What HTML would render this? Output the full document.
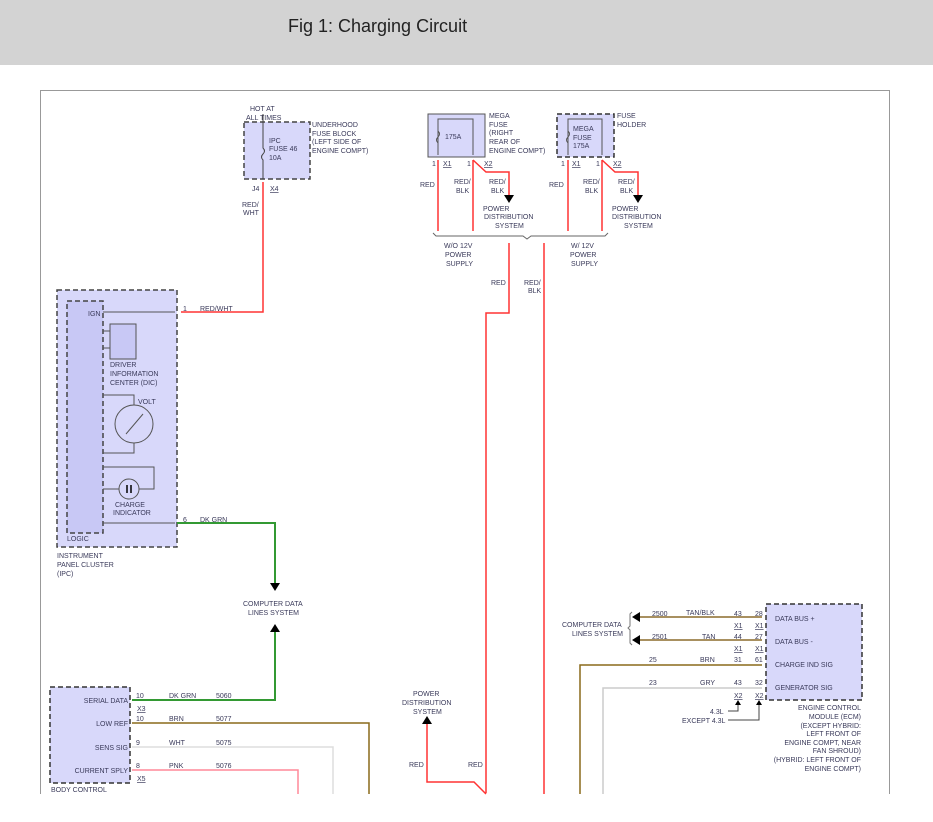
<!DOCTYPE html>
<html><head><meta charset="utf-8"><style>
html,body{margin:0;padding:0;background:#fff;width:933px;height:822px;overflow:hidden}
svg text{font-family:"Liberation Sans",sans-serif;font-size:7px;fill:#3a3a5a}
.t{font-family:"Liberation Sans",sans-serif}
</style></head><body>
<svg width="933" height="822" viewBox="0 0 933 822" xmlns="http://www.w3.org/2000/svg">
<defs>
<marker id="ad" viewBox="0 0 10 10" refX="5" refY="10" markerWidth="8" markerHeight="8" orient="auto-start-reverse"><path d="M0,0 L10,0 L5,10z" fill="#000"/></marker>
</defs>
<rect x="0" y="0" width="933" height="65" fill="#d3d3d3"/>
<text x="288" y="32" style="font-size:18px;fill:#222">Fig 1: Charging Circuit</text>
<path d="M40.5,822 V90.5 H889.5 V822" fill="none" stroke="#999" stroke-width="1"/>
<rect x="0" y="794" width="933" height="28" fill="#fff"/>

<!-- top fuse -->
<text x="250" y="111">HOT AT</text><text x="246" y="120">ALL TIMES</text>
<rect x="244" y="122" width="66" height="57" fill="#d8d8fa" stroke="#444" stroke-width="1.5" stroke-dasharray="5,3"/>
<path d="M263,114 V148 q3,3 0,6 q-3,3 0,6 V179" fill="none" stroke="#444" stroke-width="1"/>
<text x="269" y="143">IPC</text><text x="269" y="151">FUSE 46</text><text x="269" y="160">10A</text>
<text x="312" y="127">UNDERHOOD</text><text x="312" y="136">FUSE BLOCK</text><text x="312" y="144">(LEFT SIDE OF</text><text x="312" y="153">ENGINE COMPT)</text>
<text x="252" y="191">J4</text><text x="270" y="191" text-decoration="underline">X4</text>
<text x="242" y="207">RED/</text><text x="243" y="215">WHT</text>
<path d="M263,182 V312 H181" fill="none" stroke="#f33" stroke-width="1.5"/>

<!-- IPC -->
<rect x="57" y="290" width="120" height="257" fill="#d8d8fa" stroke="#444" stroke-width="1.5" stroke-dasharray="5,3"/>
<rect x="67" y="301" width="36" height="232" fill="#c8c8f5" stroke="#444" stroke-width="1.5" stroke-dasharray="5,3"/>
<text x="88" y="316">IGN</text>
<path d="M103,312 H175" stroke="#555" stroke-width="1"/>
<rect x="110" y="324" width="26" height="35" fill="#c8c8f5" stroke="#555"/>
<path d="M103,331 H110 M103,348 H110" stroke="#555"/>
<text x="110" y="367">DRIVER</text><text x="110" y="376">INFORMATION</text><text x="110" y="385">CENTER (DIC)</text>
<path d="M103,395 H134 V405 M134,443 V453 H103" fill="none" stroke="#555"/>
<circle cx="134" cy="424" r="19" fill="none" stroke="#555"/>
<path d="M126,434 L143,414" stroke="#555"/>
<text x="138" y="404">VOLT</text>
<path d="M103,467 H154 V489 H139 M119,489 H103" fill="none" stroke="#555"/>
<circle cx="129" cy="489" r="10" fill="none" stroke="#555"/>
<path d="M127,485 V493 M131,485 V493" stroke="#000" stroke-width="1.5"/>
<text x="115" y="507">CHARGE</text><text x="113" y="515">INDICATOR</text>
<path d="M103,523 H175" stroke="#555"/>
<text x="67" y="541">LOGIC</text>
<text x="57" y="558">INSTRUMENT</text><text x="57" y="567">PANEL CLUSTER</text><text x="57" y="576">(IPC)</text>
<text x="183" y="311">1</text><text x="200" y="311">RED/WHT</text>
<text x="183" y="522">6</text><text x="200" y="522">DK GRN</text>
<path d="M177,523 H275 V583" fill="none" stroke="#393" stroke-width="2"/>
<path d="M270,583 H280 L275,591z" fill="#000"/>
<text x="243" y="606">COMPUTER DATA</text><text x="248" y="615">LINES SYSTEM</text>
<path d="M270,632 H280 L275,624z" fill="#000"/>
<path d="M275,632 V700 H132" fill="none" stroke="#393" stroke-width="2"/>

<!-- body control -->
<rect x="50" y="687" width="80" height="96" fill="#d8d8fa" stroke="#333" stroke-width="1.5" stroke-dasharray="5,3"/>
<text x="128" y="703" text-anchor="end">SERIAL DATA</text>
<text x="128" y="726" text-anchor="end">LOW REF</text>
<text x="128" y="750" text-anchor="end">SENS SIG</text>
<text x="128" y="773" text-anchor="end">CURRENT SPLY</text>
<text x="51" y="792">BODY CONTROL</text>
<text x="136" y="698">10</text><text x="169" y="698">DK GRN</text><text x="216" y="698">5060</text>
<text x="137" y="711" text-anchor="start" text-decoration="underline">X3</text>
<text x="136" y="721">10</text><text x="169" y="721">BRN</text><text x="216" y="721">5077</text>
<text x="136" y="745">9</text><text x="169" y="745">WHT</text><text x="216" y="745">5075</text>
<text x="136" y="768">8</text><text x="169" y="768">PNK</text><text x="216" y="768">5076</text>
<text x="137" y="781" text-decoration="underline">X5</text>
<path d="M132,723 H369 V794" fill="none" stroke="#8a6a1a" stroke-width="1.5"/>
<path d="M132,747 H333 V794" fill="none" stroke="#ddd" stroke-width="1.5"/>
<path d="M132,770 H298 V794" fill="none" stroke="#f89" stroke-width="1.5"/>

<!-- mega fuse -->
<rect x="428" y="114" width="57" height="43" fill="#d8d8fa" stroke="#555" stroke-width="1"/>
<path d="M438,155 V119 H473 V155" fill="none" stroke="#555"/>
<path d="M438,131 q3,3 0,6 q-3,3 0,6" fill="none" stroke="#555"/>
<text x="445" y="139">175A</text>
<text x="489" y="118">MEGA</text><text x="489" y="127">FUSE</text><text x="489" y="135">(RIGHT</text><text x="489" y="144">REAR OF</text><text x="489" y="153">ENGINE COMPT)</text>
<text x="432" y="166">1</text><text x="443" y="166" text-decoration="underline">X1</text>
<text x="467" y="166">1</text><text x="484" y="166" text-decoration="underline">X2</text>
<rect x="557" y="114" width="57" height="43" fill="#d8d8fa" stroke="#333" stroke-width="1.5" stroke-dasharray="5,3"/>
<path d="M568,155 V119 H602 V155" fill="none" stroke="#555"/>
<path d="M568,131 q3,3 0,6 q-3,3 0,6" fill="none" stroke="#555"/>
<text x="573" y="131">MEGA</text><text x="573" y="140">FUSE</text><text x="573" y="148">175A</text>
<text x="617" y="118">FUSE</text><text x="617" y="127">HOLDER</text>
<text x="561" y="166">1</text><text x="572" y="166" text-decoration="underline">X1</text>
<text x="596" y="166">1</text><text x="613" y="166" text-decoration="underline">X2</text>
<g fill="none" stroke="#f33" stroke-width="1.5">
<path d="M438,160 V231 M473,160 V231 M568,160 V231 M602,160 V231"/>
<path d="M473,160 L486,172 H509 V195 M602,160 L615,172 H638 V195"/>
<path d="M509,243 V313 H486 V793"/>
<path d="M427,718 V782 H474 L486,794"/>
<path d="M544,243 V794"/>
</g>
<path d="M504,195 H514 L509,203z M633,195 H643 L638,203z" fill="#000"/>
<path d="M422,724 H432 L427,716z" fill="#000"/>
<text x="420" y="187">RED</text><text x="454" y="184">RED/</text><text x="456" y="193">BLK</text>
<text x="489" y="184">RED/</text><text x="491" y="193">BLK</text>
<text x="549" y="187">RED</text><text x="583" y="184">RED/</text><text x="585" y="193">BLK</text>
<text x="618" y="184">RED/</text><text x="620" y="193">BLK</text>
<text x="483" y="211">POWER</text><text x="484" y="219">DISTRIBUTION</text><text x="495" y="228">SYSTEM</text>
<text x="612" y="211">POWER</text><text x="612" y="219">DISTRIBUTION</text><text x="624" y="228">SYSTEM</text>
<path d="M433,233 L436,236 H523 L527,239 L531,236 H605 L608,233" fill="none" stroke="#666"/>
<text x="444" y="248">W/O 12V</text><text x="445" y="257">POWER</text><text x="446" y="266">SUPPLY</text>
<text x="571" y="248">W/ 12V</text><text x="570" y="257">POWER</text><text x="571" y="266">SUPPLY</text>
<text x="491" y="285">RED</text><text x="524" y="285">RED/</text><text x="528" y="293">BLK</text>
<text x="413" y="696">POWER</text><text x="402" y="705">DISTRIBUTION</text><text x="413" y="714">SYSTEM</text>
<text x="409" y="767">RED</text><text x="468" y="767">RED</text>

<!-- ECM -->
<rect x="766" y="604" width="96" height="96" fill="#d8d8fa" stroke="#333" stroke-width="1.5" stroke-dasharray="5,3"/>
<text x="775" y="621">DATA BUS +</text>
<text x="775" y="644">DATA BUS -</text>
<text x="775" y="667">CHARGE IND SIG</text>
<text x="775" y="690">GENERATOR SIG</text>
<path d="M640,617 H762 M640,640 H762" stroke="#a89060" stroke-width="2"/>
<path d="M640,612 V622 L632,617z M640,635 V645 L632,640z" fill="#000"/>
<path d="M632,612 L630,614 V626 L628,628 L630,630 V643 L632,645" fill="none" stroke="#777"/>
<path d="M762,665 H580 V794" fill="none" stroke="#8a6a1a" stroke-width="1.5"/>
<path d="M762,688 H603 V794" fill="none" stroke="#ccc" stroke-width="1.5"/>
<text x="562" y="627">COMPUTER DATA</text><text x="572" y="636">LINES SYSTEM</text>
<text x="652" y="616">2500</text><text x="686" y="615">TAN/BLK</text><text x="734" y="616">43</text><text x="755" y="616">28</text>
<text x="734" y="628" text-decoration="underline">X1</text><text x="755" y="628" text-decoration="underline">X1</text>
<text x="652" y="639">2501</text><text x="702" y="639">TAN</text><text x="734" y="639">44</text><text x="755" y="639">27</text>
<text x="734" y="651" text-decoration="underline">X1</text><text x="755" y="651" text-decoration="underline">X1</text>
<text x="649" y="662">25</text><text x="700" y="662">BRN</text><text x="734" y="662">31</text><text x="755" y="662">61</text>
<text x="649" y="685">23</text><text x="700" y="685">GRY</text><text x="734" y="685">43</text><text x="755" y="685">32</text>
<text x="734" y="698" text-decoration="underline">X2</text><text x="755" y="698" text-decoration="underline">X2</text>
<path d="M728,711 H738 V702 M728,720 H759 V702" fill="none" stroke="#444"/>
<path d="M735,705 H741 L738,700z M756,705 H762 L759,700z" fill="#000"/>
<text x="710" y="714">4.3L</text><text x="682" y="723">EXCEPT 4.3L</text>
<g text-anchor="end"><text x="861" y="710">ENGINE CONTROL</text><text x="861" y="719">MODULE (ECM)</text><text x="861" y="728">(EXCEPT HYBRID:</text><text x="861" y="736">LEFT FRONT OF</text><text x="861" y="745">ENGINE COMPT, NEAR</text><text x="861" y="753">FAN SHROUD)</text><text x="861" y="762">(HYBRID: LEFT FRONT OF</text><text x="861" y="771">ENGINE COMPT)</text></g>
</svg>
</body></html>
